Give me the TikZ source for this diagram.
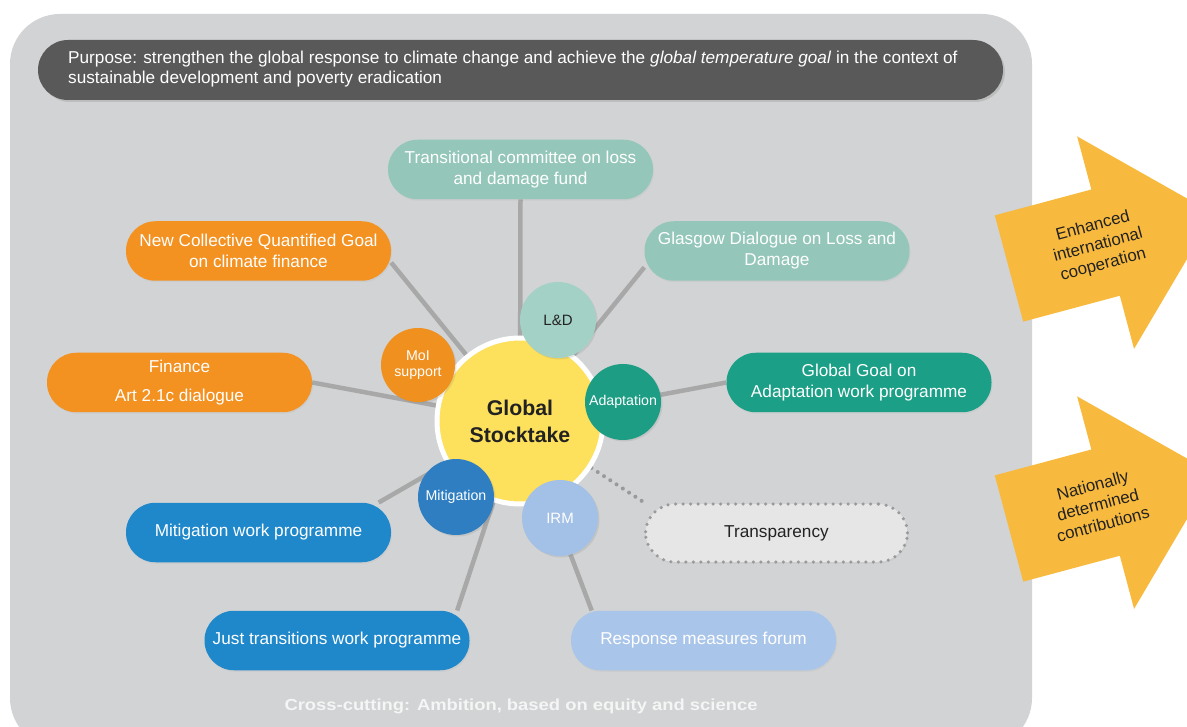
\documentclass[tikz,border=0pt]{standalone}
\usepackage{fontspec}
\setmainfont{Liberation Sans}
\usetikzlibrary{shadows}
\pgfdeclarelayer{bg}
\pgfdeclarelayer{links}
\pgfsetlayers{bg,links,main}

\definecolor{panel}{HTML}{D1D3D4}
\definecolor{bar}{HTML}{595959}
\definecolor{link}{HTML}{A8A8A8}
\definecolor{gstyellow}{HTML}{FDE05C}
\definecolor{ldlight}{HTML}{A3D1C6}
\definecolor{ldpill}{HTML}{94C7B9}
\definecolor{moiorange}{HTML}{F0901E}
\definecolor{finpill}{HTML}{F39121}
\definecolor{adagreen}{HTML}{1C9D84}
\definecolor{adapill}{HTML}{1B9F86}
\definecolor{mitblue}{HTML}{2F7EC1}
\definecolor{mitpill}{HTML}{1F88CB}
\definecolor{irmblue}{HTML}{A3C0E6}
\definecolor{rmpill}{HTML}{A9C5EA}
\definecolor{transfill}{HTML}{E6E6E6}
\definecolor{dots}{HTML}{9A9A9A}
\definecolor{arrowfill}{HTML}{F8BA3E}
\definecolor{darktext}{HTML}{222222}

\tikzset{
  pill/.style={rectangle, rounded corners=29.5pt, minimum width=265pt,
    minimum height=59.5pt, align=center, text=white,
    font=\fontsize{17.2}{21}\selectfont, inner sep=0pt,
    drop shadow={opacity=0.08, shadow xshift=1pt, shadow yshift=-1.5pt}},
  hub/.style={circle, minimum size=76pt, inner sep=0pt, align=center,
    text=white, font=\fontsize{14.2}{16}\selectfont,
    drop shadow={opacity=0.18, shadow xshift=1.5pt, shadow yshift=-1.5pt}},
  conn/.style={draw=link, line width=4.5pt},
  dotline/.style={draw=dots, line width=4pt, line cap=round,
    dash pattern=on 0pt off 7.5pt},
  bigarrow/.style={fill=arrowfill, draw=none},
  arrowtext/.style={align=center, text=darktext, rotate=15,
    font=\fontsize{16.8}{20}\selectfont}
}

\begin{document}
\begin{tikzpicture}[x=1pt, y=-1pt]
\useasboundingbox (0,0) rectangle (1187,727);

% page and grey panel
\begin{pgfonlayer}{bg}
  \fill[white] (0,0) rectangle (1187,727);
  \fill[panel, rounded corners=50pt] (10,14) rectangle (1032,748);
\end{pgfonlayer}

% purpose banner
\node[rectangle, rounded corners=30pt, fill=bar, minimum width=965pt,
  minimum height=60pt, inner sep=0pt,
  drop shadow={opacity=0.25, shadow xshift=2pt, shadow yshift=-2pt}]
  (purpose) at (520.5,70) {};
\node[anchor=west, align=left, text=white, font=\fontsize{17.2}{20}\selectfont,
  inner sep=0pt] (purposetext) at (68,69)
  {Purpose: strengthen the global response to climate change and achieve the \textit{global temperature goal} in the context of\\
   sustainable development and poverty eradication};

% central circle
\node[circle, fill=gstyellow, draw=white, line width=5pt, minimum size=166pt,
  inner sep=0pt, align=center, text=darktext,
  font=\fontsize{21.3}{27}\selectfont\bfseries,
  drop shadow={opacity=0.15, shadow xshift=1.5pt, shadow yshift=-1.5pt}]
  (gst) at (520,421) {Global\\Stocktake};

% outer workstreams
\node[pill, fill=ldpill] (tc) at (520.5,169.5) {Transitional committee on loss\\and damage fund};
\node[pill, fill=ldpill] (gd) at (777,251) {Glasgow Dialogue on Loss and\\Damage};
\node[pill, fill=adapill] (gga) at (859,382.5) {Global Goal on\\Adaptation work programme};
\node[pill, fill=finpill] (ncqg) at (258.5,251) {New Collective Quantified Goal\\on climate finance};
\node[pill, fill=finpill, font=\fontsize{17.2}{29}\selectfont] (fin) at (179.5,382.5) {Finance\\Art 2.1c dialogue};
\node[pill, fill=mitpill] (mwp) at (258.5,532.5) {Mitigation work programme};
\node[pill, fill=mitpill] (jt) at (337,640.5) {Just transitions work programme};
\node[pill, fill=rmpill] (rmf) at (703.5,640.5) {Response measures forum};
\node[pill, fill=transfill, text=darktext, draw=dots, line width=3.5pt,
  dash pattern=on 0pt off 7.5pt, line cap=round, minimum width=262pt,
  minimum height=58pt, drop shadow={opacity=0}] (tr) at (776.5,533) {Transparency};

% hub circles
\node[hub, fill=ldlight, text=darktext, font=\fontsize{15}{17}\selectfont] (ld) at (558,320) {L\&D};
\node[hub, fill=moiorange, minimum size=74pt] (moi) at (418,365) {MoI\\support};
\node[hub, fill=adagreen] (ada) at (623,402) {Adaptation};
\node[hub, fill=mitblue] (mit) at (456,497) {Mitigation};
\node[hub, fill=irmblue, font=\fontsize{15}{17}\selectfont] (irm) at (560,518) {IRM};

% spokes, all meeting under the centre of the stocktake circle
\begin{pgfonlayer}{links}
  \draw[conn] (tc.south) -- (gst.center);
  \draw[conn] (gd.187) -- (gst.center);
  \draw[conn] (gga.west) -- (gst.center);
  \draw[conn] (ncqg.-5) -- (gst.center);
  \draw[conn] (fin.east) -- (gst.center);
  \draw[conn] (mwp.14) -- (gst.center);
  \draw[conn] (jt.14) -- (gst.center);
  \draw[conn] (rmf.165) -- (gst.center);
  \draw[dotline] (gst) -- (tr.north west);
\end{pgfonlayer}

% outcome arrows
\begin{scope}[shift={(1009,268.5)}, rotate=15]
  \fill[bigarrow] (0,-55) -- (100,-55) -- (100,-110) -- (212,0) -- (100,110)
    -- (100,55) -- (0,55) -- cycle;
  \node[arrowtext] (eic) at (92,1) {Enhanced\\international\\cooperation};
\end{scope}
\begin{scope}[shift={(1009,528.5)}, rotate=15]
  \fill[bigarrow] (0,-55) -- (100,-55) -- (100,-110) -- (212,0) -- (100,110)
    -- (100,55) -- (0,55) -- cycle;
  \node[arrowtext] (ndc) at (92,0) {Nationally\\determined\\contributions};
\end{scope}

% cross-cutting footer
\node[text=white!96!black, font=\fontsize{16}{18}\selectfont\bfseries]
  (cross) at (521,706) {\scalebox{1.15}[1]{Cross-cutting: Ambition, based on equity and science}};
\end{tikzpicture}
\end{document}
